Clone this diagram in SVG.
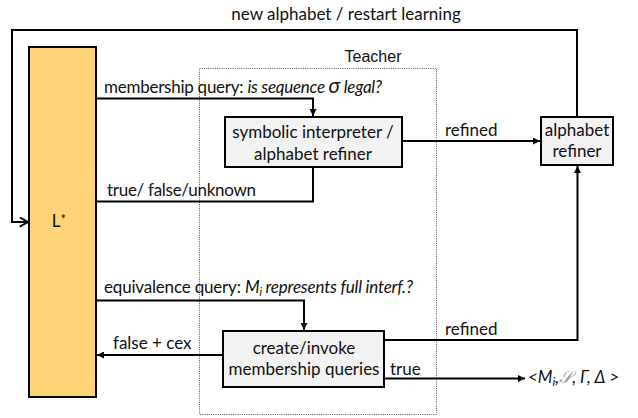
<svg xmlns="http://www.w3.org/2000/svg" width="638" height="418" viewBox="0 0 638 418">
  <defs>
    <marker id="arrow" viewBox="0 0 10 10" refX="10" refY="5" markerWidth="7" markerHeight="7" markerUnits="userSpaceOnUse" orient="auto">
      <path d="M0,0 L10,5 L0,10 Z" fill="#000"/>
    </marker>
    <marker id="open" viewBox="0 0 12 12" refX="11" refY="6" markerWidth="11" markerHeight="11" markerUnits="userSpaceOnUse" orient="auto">
      <path d="M2,1 L11,6 L2,11" fill="none" stroke="#000" stroke-width="2"/>
    </marker>
    <style>
      text { font-family: Lato, "Liberation Sans", sans-serif; font-size: 17px; fill: #111; }
      .it { font-style: italic; }
      .mid { text-anchor: middle; }
      .sans { font-family: "Liberation Sans", Arial, sans-serif; font-size: 16px; }
      .box { fill: #f2f2f2; stroke: #000; stroke-width: 2; }
      .line { fill: none; stroke: #000; stroke-width: 2; }
      .teacher { fill: none; stroke: #555; stroke-width: 1; stroke-dasharray: 1 1.2; }
    </style>
  </defs>

  <!-- title of the feedback loop -->
  <text x="346" y="20" class="mid">new alphabet / restart learning</text>

  <!-- Teacher frame -->
  <g id="teacher">
    <rect class="teacher" x="199.5" y="68.5" width="237" height="346"/>
    <text x="373" y="62" class="sans mid">Teacher</text>
  </g>

  <!-- learner -->
  <g id="lstar">
    <rect x="29" y="47" width="67" height="350" fill="#fdd378" stroke="#000" stroke-width="2"/>
    <text x="59" y="227" class="mid">L<tspan dy="-3" font-size="13">*</tspan></text>
  </g>

  <g id="symbolic">
    <rect class="box" x="225" y="117" width="177" height="50"/>
    <text x="313" y="138" class="mid">symbolic interpreter /</text>
    <text x="313" y="160" class="mid">alphabet refiner</text>
  </g>

  <g id="refiner">
    <rect class="box" x="541" y="117" width="72" height="48"/>
    <text x="577" y="136" class="mid">alphabet</text>
    <text x="577" y="157" class="mid">refiner</text>
  </g>

  <g id="create">
    <rect class="box" x="223" y="331" width="161" height="56"/>
    <text x="304" y="354" class="mid">create/invoke</text>
    <text x="304" y="375" class="mid">membership queries</text>
  </g>

  <g id="connectors">
    <!-- restart loop -->
    <path class="line" d="M577,117 V30 H12 V222 H28" marker-end="url(#open)"/>
    <!-- membership query -->
    <path class="line" d="M96,98.5 H313 V116" marker-end="url(#arrow)"/>
    <!-- answer -->
    <path class="line" d="M313,167 V201.5 H96"/>
    <!-- refined from interpreter -->
    <path class="line" d="M402,141 H540" marker-end="url(#arrow)"/>
    <!-- equivalence query -->
    <path class="line" d="M96,300.5 H304 V330" marker-end="url(#arrow)"/>
    <!-- counterexample -->
    <path class="line" d="M223,355 H97" marker-end="url(#arrow)"/>
    <!-- refined from equivalence check -->
    <path class="line" d="M384,340 H577.5 V166" marker-end="url(#arrow)"/>
    <!-- accepted -->
    <path class="line" d="M384,378.5 H525" marker-end="url(#arrow)"/>
  </g>

  <g id="labels">
    <text x="104" y="93" textLength="278">membership query: <tspan class="it">is sequence <tspan font-size="21">σ</tspan> legal?</tspan></text>
    <text x="107" y="196" textLength="149">true/ false/unknown</text>
    <text x="445" y="136">refined</text>
    <text x="104" y="292.5" textLength="309">equivalence query: <tspan class="it">M</tspan><tspan class="it" font-size="11" dy="3">i</tspan><tspan class="it" dy="-3"> represents full interf.?</tspan></text>
    <text x="113" y="349">false + cex</text>
    <text x="445" y="335">refined</text>
    <text x="390" y="375">true</text>
    <text x="528" y="383" class="it" font-size="20">&lt;M<tspan font-size="12" dy="3">i</tspan><tspan dy="-3">,</tspan><tspan fill="#999" font-family="DejaVu Serif, serif">𝒮</tspan>, Γ, Δ &gt;</text>
  </g>
</svg>
